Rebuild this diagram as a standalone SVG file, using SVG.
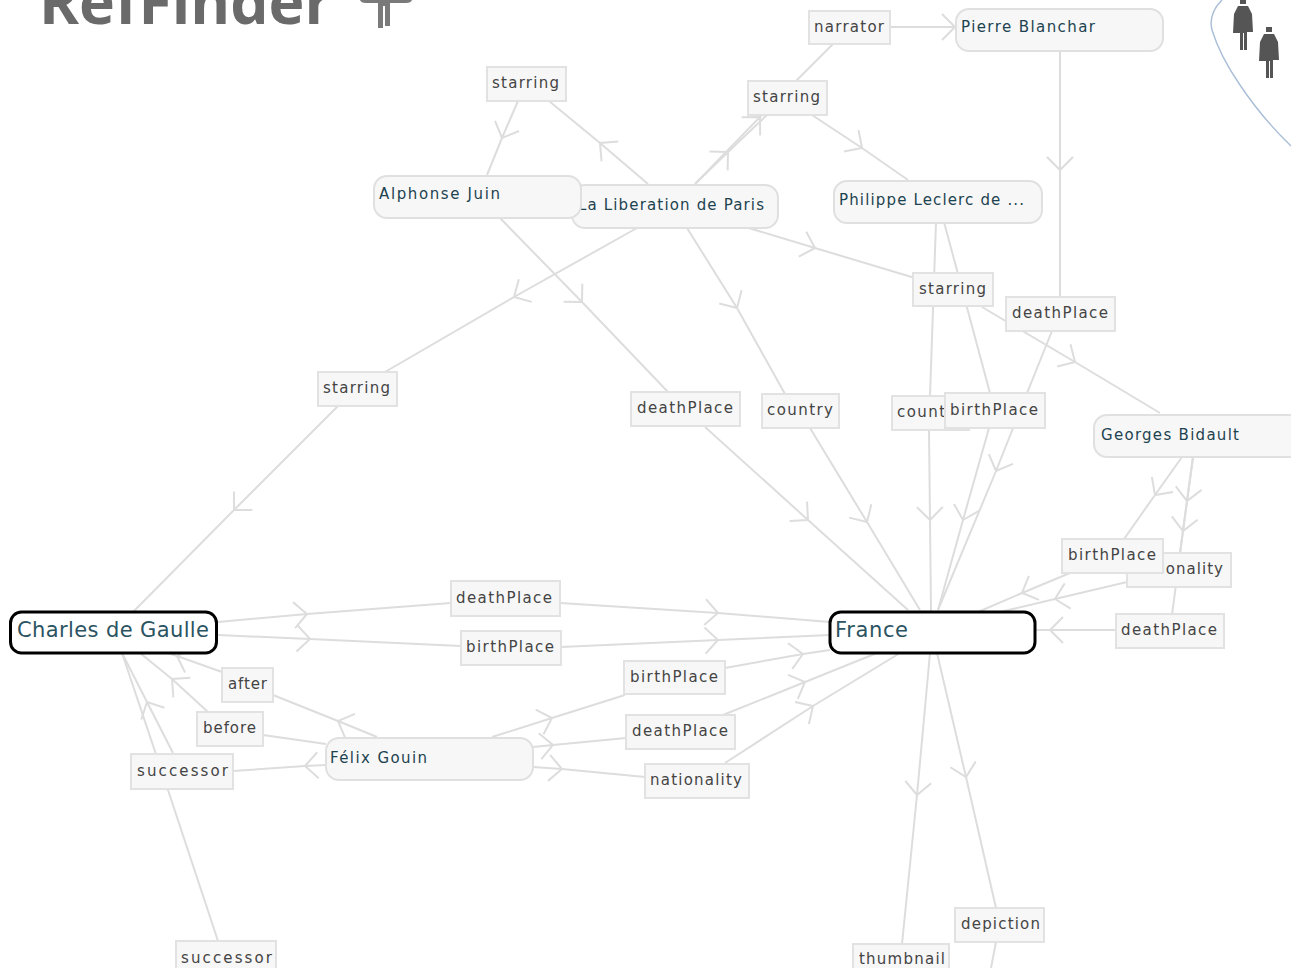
<svg xmlns="http://www.w3.org/2000/svg" width="1291" height="968" viewBox="0 0 1291 968">
<defs>
<marker id="a" markerUnits="userSpaceOnUse" markerWidth="40" markerHeight="40" refX="20" refY="20" orient="auto" overflow="visible"><path d="M7,7 L20,20 L7,33" fill="none" stroke="#ddd" stroke-width="2"/></marker>
</defs>
<style>
text{font-family:"DejaVu Sans","Liberation Sans",sans-serif}
.e{fill:none;stroke:#ddd;stroke-width:2}
.m{marker-mid:url(#a)}
.lb rect{fill:#f7f7f7;stroke:#e2e2e2;stroke-width:2}
.lb text{font-size:15px;fill:#444;transform:translateY(-1px)}
.n rect{fill:#f7f7f7;stroke:#e0e0e0;stroke-width:2}
.n text{font-size:15px;fill:#1d4350;transform:translateY(-1px)}
.k rect{fill:#fff;stroke:#000;stroke-width:3}
.k text{font-size:21px;fill:#2b5361;transform:translateY(-1px)}
</style>
<rect width="1291" height="968" fill="#fff"/>
<g id="logo">
<text x="39" y="24" font-size="60" font-weight="700" fill="#6a6a6a" style="font-family:'Open Sans','Liberation Sans',sans-serif" textLength="293" lengthAdjust="spacingAndGlyphs">RefFinder</text>
<path d="M360,0 Q361,3 366,3 H378 V28 H383 V6 H385 V26 H390 V3 H406 Q411,3 412,0 Z" fill="#7a7a7a"/>
</g>
<g id="people">
<path d="M1222,0 Q1208,14 1212,30 Q1220,56 1240,85 Q1262,118 1291,146" fill="none" stroke="#a9bdd6" stroke-width="1.4"/>
<path d="M1240,0 H1246 V4 H1240 Z M1238,6 H1248 L1252,14 L1253,32 H1247 V50 H1244 V33 H1243 V50 H1240 V33 H1233 L1234,14 Z" fill="#555"/>
<path d="M1266,27 H1272 V32 H1266 Z M1264,34 H1274 L1278,42 L1279,60 H1273 V78 H1270 V61 H1269 V78 H1266 V61 H1259 L1260,42 Z" fill="#555"/>
</g>
<g id="connectors">
<path class="e m" d="M518,101 L502,138 L487,175"/>
<path class="e m" d="M648,184 L600,143 L549,101"/>
<path class="e m" d="M695,184 L728,152 L767,115"/>
<path class="e m" d="M695,184 L760,117 L833,44"/>
<path class="e m" d="M812,115 L862,148 L908,180"/>
<path class="e m" d="M890,27 L955,27 L957,27"/>
<path class="e m" d="M1060,50 L1060,170 L1060,297"/>
<path class="e" d="M1052,331 L1013,428"/>
<path class="e m" d="M1027,393 L996,471 L938,610"/>
<path class="e" d="M936,222 L930,396"/>
<path class="e m" d="M929,430 L930,520 L931,611"/>
<path class="e" d="M944,222 L990,393"/>
<path class="e m" d="M989,428 L963,520 L938,610"/>
<path class="e m" d="M742,226 L815,248 L915,278"/>
<path class="e m" d="M982,307 L1075,362 L1160,413"/>
<path class="e m" d="M500,218 L582,302 L668,392"/>
<path class="e m" d="M705,427 L808,520 L908,610"/>
<path class="e m" d="M687,228 L737,308 L785,394"/>
<path class="e m" d="M810,428 L867,522 L920,610"/>
<path class="e m" d="M637,228 L514,297 L385,372"/>
<path class="e m" d="M338,406 L234,510 L133,612"/>
<path class="e m" d="M218,622 L307,614 L451,603"/>
<path class="e m" d="M560,603 L718,613 L830,622"/>
<path class="e m" d="M218,635 L310,639 L461,646"/>
<path class="e m" d="M561,647 L718,640 L830,635"/>
<path class="e m" d="M492,737 L552,718 L625,695"/>
<path class="e m" d="M725,668 L803,654 L830,650"/>
<path class="e m" d="M533,747 L553,745 L626,738"/>
<path class="e m" d="M723,715 L805,682 L877,653"/>
<path class="e m" d="M533,767 L562,769 L645,777"/>
<path class="e m" d="M725,763 L813,706 L900,653"/>
<path class="e m" d="M377,737 L338,721 L273,695"/>
<path class="e m" d="M222,672 L177,656 L168,653"/>
<path class="e" d="M326,744 L263,735"/>
<path class="e m" d="M208,712 L172,679 L140,653"/>
<path class="e m" d="M173,753 L147,702 L122,653"/>
<path class="e m" d="M122,653 L168,790 L218,941"/>
<path class="e m" d="M326,765 L305,766 L233,771"/>
<path class="e m" d="M1182,457 L1155,495 L1124,539"/>
<path class="e m" d="M1070,573 L1022,593 L978,612"/>
<path class="e m" d="M1193,457 L1187,501 L1180,553"/>
<path class="e m" d="M1193,457 L1183,531 L1172,615"/>
<path class="e m" d="M1127,582 L1055,599 L1000,612"/>
<path class="e m" d="M1116,630 L1050,630 L1036,630"/>
<path class="e m" d="M930,653 L917,795 L902,944"/>
<path class="e m" d="M937,653 L966,777 L996,908"/>
<path class="e" d="M996,942 L991,968"/>
</g>
<g id="l-starring-1" class="lb"><rect x="487" y="67" width="79" height="34"/><text x="492" y="89" textLength="67">starring</text></g>
<g id="l-starring-2" class="lb"><rect x="748" y="81" width="79" height="34"/><text x="753" y="103" textLength="67">starring</text></g>
<g id="l-narrator" class="lb"><rect x="809" y="11" width="81" height="33"/><text x="814" y="33" textLength="70">narrator</text></g>
<g id="l-starring-3" class="lb"><rect x="913" y="273" width="80" height="33"/><text x="919" y="295" textLength="67">starring</text></g>
<g id="l-death-1" class="lb"><rect x="1006" y="297" width="109" height="34"/><text x="1012" y="319" textLength="96">deathPlace</text></g>
<g id="l-country-1" class="lb"><rect x="892" y="396" width="77" height="34"/><text x="897" y="418" textLength="66">country</text></g>
<g id="l-birth-1" class="lb"><rect x="945" y="393" width="100" height="35"/><text x="950" y="416" textLength="88">birthPlace</text></g>
<g id="l-death-2" class="lb"><rect x="631" y="392" width="109" height="34"/><text x="637" y="414" textLength="96">deathPlace</text></g>
<g id="l-country-2" class="lb"><rect x="762" y="394" width="77" height="34"/><text x="767" y="416" textLength="66">country</text></g>
<g id="l-starring-4" class="lb"><rect x="318" y="372" width="79" height="34"/><text x="323" y="394" textLength="67">starring</text></g>
<g id="l-death-3" class="lb"><rect x="451" y="581" width="109" height="35"/><text x="456" y="604" textLength="96">deathPlace</text></g>
<g id="l-birth-2" class="lb"><rect x="461" y="631" width="100" height="34"/><text x="466" y="653" textLength="88">birthPlace</text></g>
<g id="l-birth-3" class="lb"><rect x="624" y="661" width="101" height="33"/><text x="630" y="683" textLength="88">birthPlace</text></g>
<g id="l-death-4" class="lb"><rect x="626" y="715" width="109" height="34"/><text x="632" y="737" textLength="96">deathPlace</text></g>
<g id="l-nationality-1" class="lb"><rect x="645" y="764" width="104" height="34"/><text x="650" y="786" textLength="92">nationality</text></g>
<g id="l-after" class="lb"><rect x="222" y="668" width="51" height="34"/><text x="228" y="690" textLength="39">after</text></g>
<g id="l-before" class="lb"><rect x="197" y="712" width="66" height="34"/><text x="203" y="734" textLength="53">before</text></g>
<g id="l-successor-1" class="lb"><rect x="131" y="754" width="102" height="35"/><text x="137" y="777" textLength="91">successor</text></g>
<g id="l-successor-2" class="lb"><rect x="176" y="941" width="100" height="35"/><text x="181" y="964" textLength="91">successor</text></g>
<g id="l-nationality-2" class="lb"><rect x="1127" y="553" width="104" height="34"/><text x="1133" y="575" textLength="90">nationality</text></g>
<g id="l-birth-4" class="lb"><rect x="1062" y="539" width="101" height="34"/><text x="1068" y="561" textLength="88">birthPlace</text></g>
<g id="l-death-5" class="lb"><rect x="1116" y="614" width="108" height="34"/><text x="1121" y="636" textLength="96">deathPlace</text></g>
<g id="l-depiction" class="lb"><rect x="955" y="908" width="89" height="34"/><text x="961" y="930" textLength="79">depiction</text></g>
<g id="l-thumbnail" class="lb"><rect x="853" y="944" width="96" height="34"/><text x="859" y="965" textLength="86">thumbnail</text></g>
<g id="n-liberation" class="n"><rect x="572" y="185" width="206" height="43" rx="13"/><text x="578" y="211" textLength="186">La Liberation de Paris</text></g>
<g id="n-alphonse" class="n"><rect x="374" y="176" width="207" height="42" rx="13"/><text x="379" y="200" textLength="121">Alphonse Juin</text></g>
<g id="n-philippe" class="n"><rect x="834" y="181" width="208" height="42" rx="13"/><text x="839" y="206" textLength="185">Philippe Leclerc de ...</text></g>
<g id="n-pierre" class="n"><rect x="956" y="9" width="207" height="42" rx="13"/><text x="961" y="33" textLength="134">Pierre Blanchar</text></g>
<g id="n-georges" class="n"><rect x="1094" y="415" width="207" height="42" rx="13"/><text x="1101" y="441" textLength="138">Georges Bidault</text></g>
<g id="n-felix" class="n"><rect x="326" y="738" width="207" height="42" rx="13"/><text x="330" y="764" textLength="97">Félix Gouin</text></g>
<g id="n-charles" class="k"><rect x="10.500" y="612" width="206" height="41" rx="11"/><text x="17" y="638" textLength="192">Charles de Gaulle</text></g>
<g id="n-france" class="k"><rect x="830" y="612" width="205" height="41" rx="11"/><text x="835" y="638" textLength="73">France</text></g>
</svg>
